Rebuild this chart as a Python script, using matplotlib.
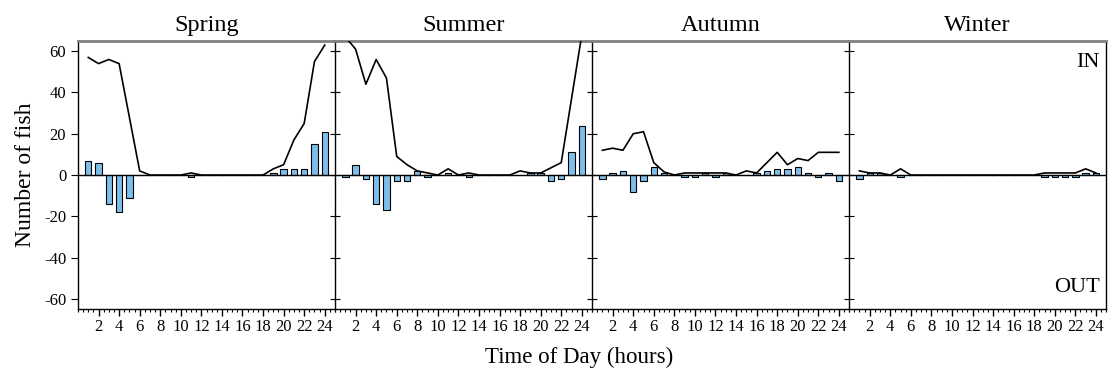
import numpy as np
import matplotlib as mpl
mpl.use('Agg')
import matplotlib.pyplot as plt
from matplotlib.ticker import MultipleLocator

plt.rcParams['font.family'] = ['Liberation Serif', 'DejaVu Serif']
plt.rcParams['axes.unicode_minus'] = False

hours = np.arange(1, 25)
seasons = ['Spring', 'Summer', 'Autumn', 'Winter']

# net movement (IN positive, OUT negative)
spring_net = [7, 6, -14, -18, -11, 0, 0, 0, 0, 0, -1, 0,
              0, 0, 0, 0, 0, 0, 1, 3, 3, 3, 15, 21]
summer_net = [-1, 5, -2, -14, -17, -3, -3, 2, -1, 0, 1, 0,
              -1, 0, 0, 0, 0, 0, 1, 1, -3, -2, 11, 24]
autumn_net = [-2, 1, 2, -8, -3, 4, 1, 0, -1, -1, 1, -1,
              1, 0, 0, 1, 2, 3, 3, 4, 1, -1, 1, -3]
winter_net = [-2, 1, 1, 0, -1, 0, 0, 0, 0, 0, 0, 0,
              0, 0, 0, 0, 0, 0, -1, -1, -1, -1, 1, 1]

# total fish (line)
spring_tot = [57, 54, 56, 54, 28, 2, 0, 0, 0, 0, 1, 0,
              0, 0, 0, 0, 0, 0, 3, 5, 17, 25, 55, 63]
summer_tot = [67, 61, 44, 56, 47, 9, 5, 2, 1, 0, 3, 0,
              1, 0, 0, 0, 0, 2, 1, 1, 3.5, 6, 37, 68]
autumn_tot = [12, 13, 12, 20, 21, 6, 1.5, 0, 1, 1, 1, 1,
              1, 0, 2, 1, 6, 11, 5, 8, 7, 11, 11, 11]
winter_tot = [2, 1, 1, 0, 3, 0, 0, 0, 0, 0, 0, 0,
              0, 0, 0, 0, 0, 0, 1, 1, 1, 1, 3, 1]

nets = [spring_net, summer_net, autumn_net, winter_net]
tots = [spring_tot, summer_tot, autumn_tot, winter_tot]

fig, axes = plt.subplots(1, 4, figsize=(11.14, 3.72), dpi=100, sharey=True)
fig.subplots_adjust(left=0.070, right=0.993, top=0.890, bottom=0.169, wspace=0)

for i, ax in enumerate(axes):
    ax.bar(hours, nets[i], width=0.62, color='#7cbfeb', edgecolor='black',
           linewidth=0.8, zorder=2)
    ax.plot(hours, tots[i], color='black', linewidth=1.2, zorder=3)
    ax.axhline(0, color='black', linewidth=1.0, zorder=4)
    ax.set_xlim(0, 25)
    ax.set_ylim(-65, 65)
    ax.set_title(seasons[i], fontsize=17.5, pad=7)
    ax.xaxis.set_major_locator(MultipleLocator(2))
    ax.xaxis.set_minor_locator(MultipleLocator(0.5))
    ax.set_xticks(np.arange(2, 25, 2))
    ax.tick_params(axis='x', which='major', length=5, width=1, labelsize=12, pad=2)
    ax.tick_params(axis='x', which='minor', length=2.5, width=0.8)
    ax.set_yticks(np.arange(-60, 61, 20))
    for side in ['left', 'right', 'bottom']:
        ax.spines[side].set_color('black')
        ax.spines[side].set_linewidth(1.0)
    ax.spines['top'].set_color('#808080')
    ax.spines['top'].set_linewidth(2.0)
    ax.spines['right'].set_visible(i == 3)
    if i == 0:
        ax.tick_params(axis='y', direction='out', length=5, labelsize=12)
    else:
        ax.tick_params(axis='y', direction='inout', length=7, labelleft=False)

axes[0].set_ylabel('Number of fish', fontsize=17, labelpad=6)
axes[3].text(0.975, 0.92, 'IN', transform=axes[3].transAxes, ha='right',
             va='center', fontsize=16)
axes[3].text(0.975, 0.08, 'OUT', transform=axes[3].transAxes, ha='right',
             va='center', fontsize=16)
fig.text(0.52, 0.038, 'Time of Day (hours)', ha='center', va='center', fontsize=16.5)

plt.savefig('out.png', dpi=100)
